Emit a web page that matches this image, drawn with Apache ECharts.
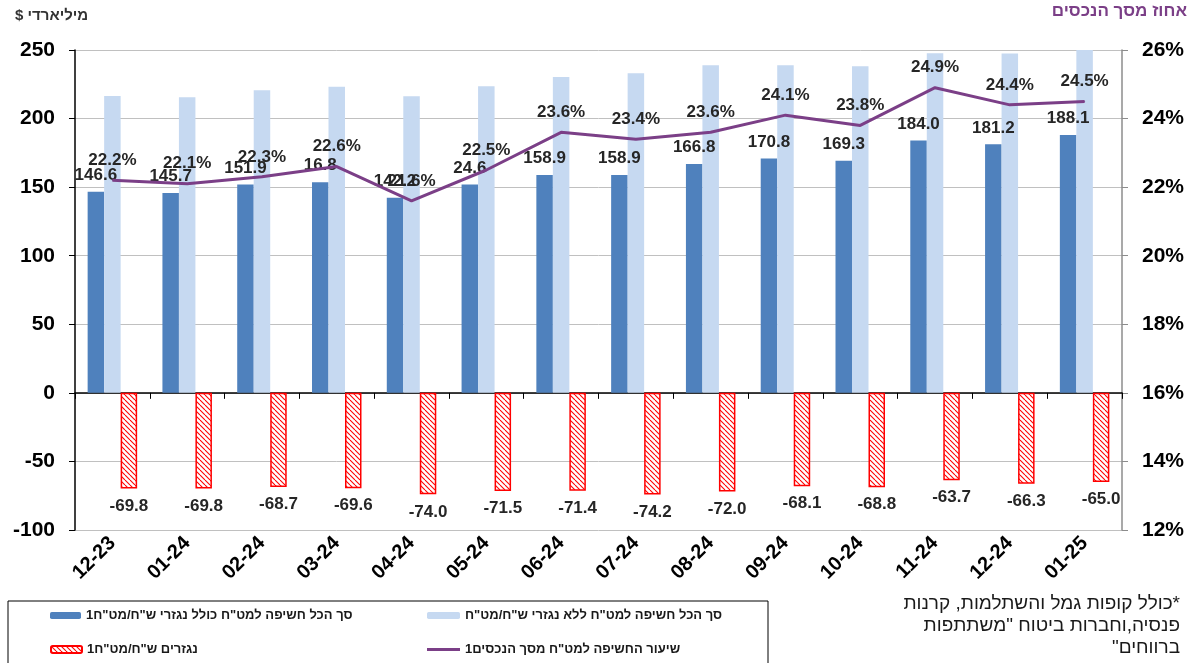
<!DOCTYPE html>
<html>
<head>
<meta charset="utf-8">
<script src="https://cdn.jsdelivr.net/npm/echarts@6/dist/echarts.min.js"></script>
<style>
html,body{margin:0;padding:0;background:#fff;}
#chart{width:1199px;height:663px;}
</style>
</head>
<body>
<div id="chart"></div>
<script>
const categories = ['12-23','01-24','02-24','03-24','04-24','05-24','06-24','07-24','08-24','09-24','10-24','11-24','12-24','01-25'];
const totalInclDeriv = [146.6,145.7,151.9,153.6,142.2,152.0,158.9,158.9,166.8,170.8,169.3,184.0,181.2,188.1];
const totalInclDerivLabels = ['146.6','145.7','151.9','16.8','142.2','24.6','158.9','158.9','166.8','170.8','169.3','184.0','181.2','188.1'];
const totalExclDeriv = [216.4,215.5,220.6,223.2,216.2,223.5,230.3,233.1,238.8,238.9,238.1,247.7,247.5,253.1];
const derivatives = [-69.8,-69.8,-68.7,-69.6,-74.0,-71.5,-71.4,-74.2,-72.0,-68.1,-68.8,-63.7,-66.3,-65.0];
const exposureRate = [22.2,22.1,22.3,22.6,21.6,22.5,23.6,23.4,23.6,24.1,23.8,24.9,24.4,24.5];

const nameIncl = 'סך הכל חשיפה למט"ח כולל נגזרי ש"ח/מט"ח1';
const nameExcl = 'סך הכל חשיפה למט"ח ללא נגזרי ש"ח/מט"ח';
const nameDeriv = 'נגזרים ש"ח/מט"ח1';
const nameRate = 'שיעור החשיפה למט"ח מסך הנכסים1';

const LRM = '\u200E';
const FONT = '"Liberation Sans", "DejaVu Sans", Arial, sans-serif';

// hatch pattern
const pc = document.createElement('canvas');
pc.width = 5; pc.height = 5;
const ctx = pc.getContext('2d');
ctx.fillStyle = '#ffffff';
ctx.fillRect(0,0,5,5);
ctx.strokeStyle = '#ff0000';
ctx.lineWidth = 1.1;
for (let k = -5; k <= 5; k += 5) {
  ctx.beginPath();
  ctx.moveTo(k, 0);
  ctx.lineTo(k + 5, 5);
  ctx.stroke();
}

const chart = echarts.init(document.getElementById('chart'));
const labelFont = {fontFamily: FONT, fontWeight: 'bold', fontSize: 17, color: '#262626'};
const legendText = {fontFamily: FONT, fontWeight: 'bold', fontSize: 13, color: '#1a1a1a'};

const option = {
  animation: false,
  backgroundColor: '#fff',
  grid: {left: 75, right: 77, top: 50, bottom: 133, containLabel: false},
  legend: [
    {data: [nameIncl], left: 50, top: 609, padding: 0, itemWidth: 31, itemHeight: 7, textStyle: legendText, selectedMode: false},
    {data: [nameExcl], left: 427, top: 609, padding: 0, itemWidth: 33, itemHeight: 7, textStyle: legendText, selectedMode: false},
    {data: [nameDeriv], left: 50, top: 643, padding: 0, itemWidth: 31, itemHeight: 7, textStyle: legendText, selectedMode: false},
    {data: [{name: nameRate, icon: 'rect'}], left: 427, top: 643, padding: 0, itemWidth: 33, itemHeight: 3, textStyle: legendText, selectedMode: false}
  ],
  xAxis: [
    {
      type: 'category', data: categories, position: 'bottom',
      axisLine: {show: true, onZero: true, lineStyle: {color: '#000', width: 1.5}},
      axisTick: {show: true, length: 6, inside: false, alignWithLabel: false, lineStyle: {color: '#000'}},
      axisLabel: {show: false},
      splitLine: {show: false}
    },
    {
      type: 'category', data: categories, position: 'bottom',
      axisLine: {show: false, onZero: false},
      axisTick: {show: false},
      axisLabel: {show: true, interval: 0, rotate: 45, margin: 10, fontFamily: FONT, fontWeight: 'bold', fontSize: 20, color: '#000'},
      splitLine: {show: false}
    }
  ],
  yAxis: [
    {
      type: 'value', min: -100, max: 250, interval: 50,
      axisLine: {show: true, lineStyle: {color: '#000', width: 1.5}},
      axisTick: {show: true, length: 6, lineStyle: {color: '#000'}},
      axisLabel: {margin: 20, fontFamily: FONT, fontWeight: 'bold', fontSize: 21, color: '#000'},
      splitLine: {show: true, lineStyle: {color: '#C0C0C0', width: 1}}
    },
    {
      type: 'value', min: 12, max: 26, interval: 2, position: 'right',
      axisLine: {show: true, lineStyle: {color: '#8c8c8c', width: 1.5}},
      axisTick: {show: true, length: 6, lineStyle: {color: '#8c8c8c'}},
      axisLabel: {margin: 20, formatter: '{value}%', fontFamily: FONT, fontWeight: 'bold', fontSize: 21, color: '#000'},
      splitLine: {show: false}
    }
  ],
  series: [
    {
      name: nameIncl, type: 'bar', xAxisIndex: 0, yAxisIndex: 0,
      data: totalInclDeriv, barWidth: 16.5, barGap: '0%',
      itemStyle: {color: '#4F81BD'},
      label: {show: true, position: 'top', distance: 8, formatter: p => totalInclDerivLabels[p.dataIndex], ...labelFont},
      z: 2
    },
    {
      name: nameExcl, type: 'bar', xAxisIndex: 0, yAxisIndex: 0,
      data: totalExclDeriv, barWidth: 16.5, barGap: '0%',
      itemStyle: {color: '#C6D9F1'},
      z: 2
    },
    {
      name: nameDeriv, type: 'bar', xAxisIndex: 0, yAxisIndex: 0,
      data: derivatives, barWidth: 16.5, barGap: '0%',
      itemStyle: {color: {image: pc, repeat: 'repeat'}, borderColor: '#ff0000', borderWidth: 1.5},
      label: {show: true, position: 'bottom', distance: 9, formatter: p => p.value.toFixed(1), ...labelFont},
      z: 2
    },
    {
      name: nameRate, type: 'line', xAxisIndex: 0, yAxisIndex: 1,
      data: exposureRate, symbol: 'circle', symbolSize: 1, showSymbol: true,
      lineStyle: {color: '#7B3F87', width: 3},
      itemStyle: {color: '#7B3F87'},
      label: {show: true, position: 'top', distance: 11, formatter: p => p.value.toFixed(1) + '%', ...labelFont},
      z: 5
    }
  ],
  graphic: [
    {type: 'rect', shape: {x: 8, y: 601, width: 760, height: 80}, style: {fill: 'none', stroke: '#000', lineWidth: 1}, silent: true, z: 0},
    {type: 'text', left: 15, top: 8, style: {text: LRM + '$ מיליארדי', font: 'bold 15px ' + FONT, fill: '#333'}},
    {type: 'text', right: 12, top: 3, style: {text: 'אחוז מסך הנכסים', font: 'bold 17px ' + FONT, fill: '#7B3F87'}},
    {type: 'text', x: 1180, y: 593, style: {text: 'כולל קופות גמל והשתלמות, קרנות*\nפנסיה,וחברות ביטוח "משתתפות\n"ברווחים', font: '19px ' + FONT, fill: '#1a1a1a', align: 'right', lineHeight: 22}}
  ]
};
chart.setOption(option);
</script>
</body>
</html>
